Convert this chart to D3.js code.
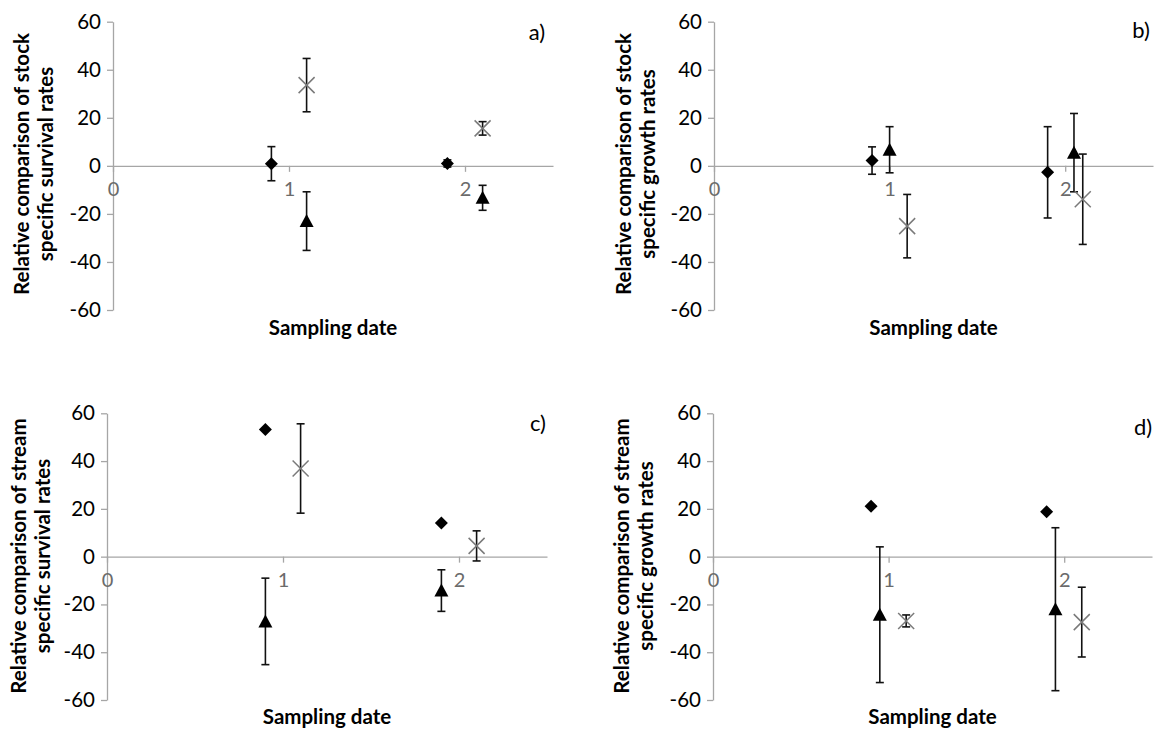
<!DOCTYPE html>
<html>
<head>
<meta charset="utf-8">
<script src="https://cdn.jsdelivr.net/npm/d3@7/dist/d3.min.js"></script>
<style>
  html, body { margin: 0; padding: 0; background: #ffffff; }
  svg { display: block; }
  text { font-family: Lato, "Open Sans", sans-serif; }
</style>
</head>
<body>
<svg id="chart" width="1157" height="729"></svg>
<script>
// ---------- data ----------
const xTicks = [0, 1, 2];
const yTicks = [-60, -40, -20, 0, 20, 40, 60];
const panelLetters = ["a)", "b)", "c)", "d)"];
const yTitles = [
  ["Relative comparison of stock", "specific survival rates"],
  ["Relative comparison of stock", "specific growth rates"],
  ["Relative comparison of stream", "specific survival rates"],
  ["Relative comparison of stream", "specific growth rates"]
];
const xTitle = "Sampling date";

// panel a) stock survival
const aDiamondX = [0.9, 1.9],  aDiamondY = [0.9, 1.0],    aDiamondErr = [7.1, 1.5];
const aTriangleX = [1.1, 2.1], aTriangleY = [-23.0, -13.3], aTriangleErr = [12.2, 5.2];
const aCrossX = [1.1, 2.1],    aCrossY = [33.6, 15.6],     aCrossErr = [11.1, 2.8];

// panel b) stock growth
const bDiamondX = [0.9, 1.9],   bDiamondY = [2.2, -2.7],   bDiamondErr = [5.7, 19.0];
const bTriangleX = [1.0, 2.05], bTriangleY = [6.7, 5.5],   bTriangleErr = [9.6, 16.3];
const bCrossX = [1.1, 2.1],     bCrossY = [-25.1, -13.9],  bCrossErr = [13.2, 18.8];

// panel c) stream survival
const cDiamondX = [0.9, 1.9],  cDiamondY = [53.2, 14.1],   cDiamondErr = [0, 0];
const cTriangleX = [0.9, 1.9], cTriangleY = [-27.1, -14.2], cTriangleErr = [18.1, 8.7];
const cCrossX = [1.1, 2.1],    cCrossY = [36.9, 4.5],      cCrossErr = [18.7, 6.3];

// panel d) stream growth
const dDiamondX = [0.9, 1.9],    dDiamondY = [21.1, 18.8],  dDiamondErr = [0, 0];
const dTriangleX = [0.95, 1.95], dTriangleY = [-24.3, -22.0], dTriangleErr = [28.4, 34.1];
const dCrossX = [1.1, 2.1],      dCrossY = [-26.9, -27.4],  dCrossErr = [2.5, 14.6];

// ---------- build series tables from arrays ----------
function series(xs, ys, es) { return xs.map((x, i) => ({ x: x, y: ys[i], e: es[i] })); }
const panelSeries = [
  { diamond: series(aDiamondX, aDiamondY, aDiamondErr), triangle: series(aTriangleX, aTriangleY, aTriangleErr), cross: series(aCrossX, aCrossY, aCrossErr) },
  { diamond: series(bDiamondX, bDiamondY, bDiamondErr), triangle: series(bTriangleX, bTriangleY, bTriangleErr), cross: series(bCrossX, bCrossY, bCrossErr) },
  { diamond: series(cDiamondX, cDiamondY, cDiamondErr), triangle: series(cTriangleX, cTriangleY, cTriangleErr), cross: series(cCrossX, cCrossY, cCrossErr) },
  { diamond: series(dDiamondX, dDiamondY, dDiamondErr), triangle: series(dTriangleX, dTriangleY, dTriangleErr), cross: series(dCrossX, dCrossY, dCrossErr) }
];

// ---------- layout (pixels) ----------
const layouts = [
  { left: 113, right: 553,  top: 21.7,  bottom: 310, t1: 22,  t2: 46,  tY: 164, xtY: 335, lx: 537,  ly: 40 },
  { left: 714, right: 1153, top: 21.7,  bottom: 310, t1: 624, t2: 648, tY: 164, xtY: 335, lx: 1141, ly: 38 },
  { left: 107, right: 547,  top: 413.3, bottom: 700, t1: 19,  t2: 43,  tY: 556, xtY: 724, lx: 538,  ly: 431 },
  { left: 713, right: 1152, top: 413.3, bottom: 700, t1: 622, t2: 646, tY: 556, xtY: 724, lx: 1143, ly: 435 }
];

const axisGray = "#a6a6a6";
const crossGray = "#7a7a7a";
const svg = d3.select("#chart");
const fmt = d => String(d);

layouts.forEach((L, pi) => {
  const x = d3.scaleLinear().domain([0, 2.5]).range([L.left, L.right]);
  const y = d3.scaleLinear().domain([-60, 60]).range([L.bottom, L.top]);
  const g = svg.append("g");

  // y axis
  const ya = g.append("g").attr("transform", `translate(${L.left},0)`)
    .call(d3.axisLeft(y).tickValues(yTicks).tickSize(6).tickSizeOuter(0).tickPadding(6).tickFormat(fmt));
  ya.select(".domain").attr("stroke", axisGray).attr("stroke-width", 1.3);
  ya.selectAll(".tick line").attr("stroke", axisGray).attr("stroke-width", 1.3);
  ya.selectAll(".tick text").attr("fill", "#000").style("font-size", "20.5px").style("font-family", "Lato, sans-serif");

  // x axis at y=0
  const xa = g.append("g").attr("transform", `translate(0,${y(0)})`)
    .call(d3.axisBottom(x).tickValues(xTicks).tickSize(6).tickSizeOuter(0).tickPadding(10).tickFormat(fmt));
  xa.select(".domain").attr("stroke", axisGray).attr("stroke-width", 1.3);
  xa.selectAll(".tick line").attr("stroke", axisGray).attr("stroke-width", 1.3);
  xa.selectAll(".tick text").attr("fill", "#6b6b6b").style("font-size", "20px").style("font-family", "Lato, sans-serif");

  // titles
  const tt = yTitles[pi];
  g.append("text").attr("transform", `translate(${L.t1 + 7},${L.tY}) rotate(-90)`)
    .attr("text-anchor", "middle").attr("font-weight", "bold").attr("font-size", 20.5).attr("fill", "#000").text(tt[0]);
  g.append("text").attr("transform", `translate(${L.t2 + 7},${L.tY}) rotate(-90)`)
    .attr("text-anchor", "middle").attr("font-weight", "bold").attr("font-size", 20.5).attr("fill", "#000").text(tt[1]);
  g.append("text").attr("x", (L.left + L.right) / 2).attr("y", L.xtY)
    .attr("text-anchor", "middle").attr("font-weight", "bold").attr("font-size", 20.5).attr("fill", "#000").text(xTitle);
  g.append("text").attr("x", L.lx).attr("y", L.ly)
    .attr("text-anchor", "middle").attr("font-size", 22).attr("fill", "#000").text(panelLetters[pi]);

  const S = panelSeries[pi];
  const all = [].concat(S.diamond, S.triangle, S.cross).filter(d => d.e > 0);

  // error bars
  const eb = g.append("g").attr("stroke", "#111").attr("stroke-width", 1.6).attr("fill", "none");
  all.forEach(d => {
    const cx = x(d.x), y1 = y(d.y + d.e), y2 = y(d.y - d.e);
    eb.append("line").attr("x1", cx).attr("x2", cx).attr("y1", y1).attr("y2", y2);
    eb.append("line").attr("x1", cx - 4).attr("x2", cx + 4).attr("y1", y1).attr("y2", y1);
    eb.append("line").attr("x1", cx - 4).attr("x2", cx + 4).attr("y1", y2).attr("y2", y2);
  });

  // diamonds
  g.append("g").selectAll("path").data(S.diamond).join("path")
    .attr("d", d => { const cx = x(d.x), cy = y(d.y); return `M${cx},${cy - 6.5}L${cx + 6.5},${cy}L${cx},${cy + 6.5}L${cx - 6.5},${cy}Z`; })
    .attr("fill", "#000");
  // triangles
  g.append("g").selectAll("path").data(S.triangle).join("path")
    .attr("d", d => { const cx = x(d.x), cy = y(d.y); return `M${cx},${cy - 7}L${cx + 7},${cy + 6}L${cx - 7},${cy + 6}Z`; })
    .attr("fill", "#000");
  // crosses
  g.append("g").selectAll("path").data(S.cross).join("path")
    .attr("d", d => { const cx = x(d.x), cy = y(d.y), r = 8; return `M${cx - r},${cy - r}L${cx + r},${cy + r}M${cx - r},${cy + r}L${cx + r},${cy - r}`; })
    .attr("stroke", crossGray).attr("stroke-width", 1.5).attr("fill", "none");
});
</script>
</body>
</html>
